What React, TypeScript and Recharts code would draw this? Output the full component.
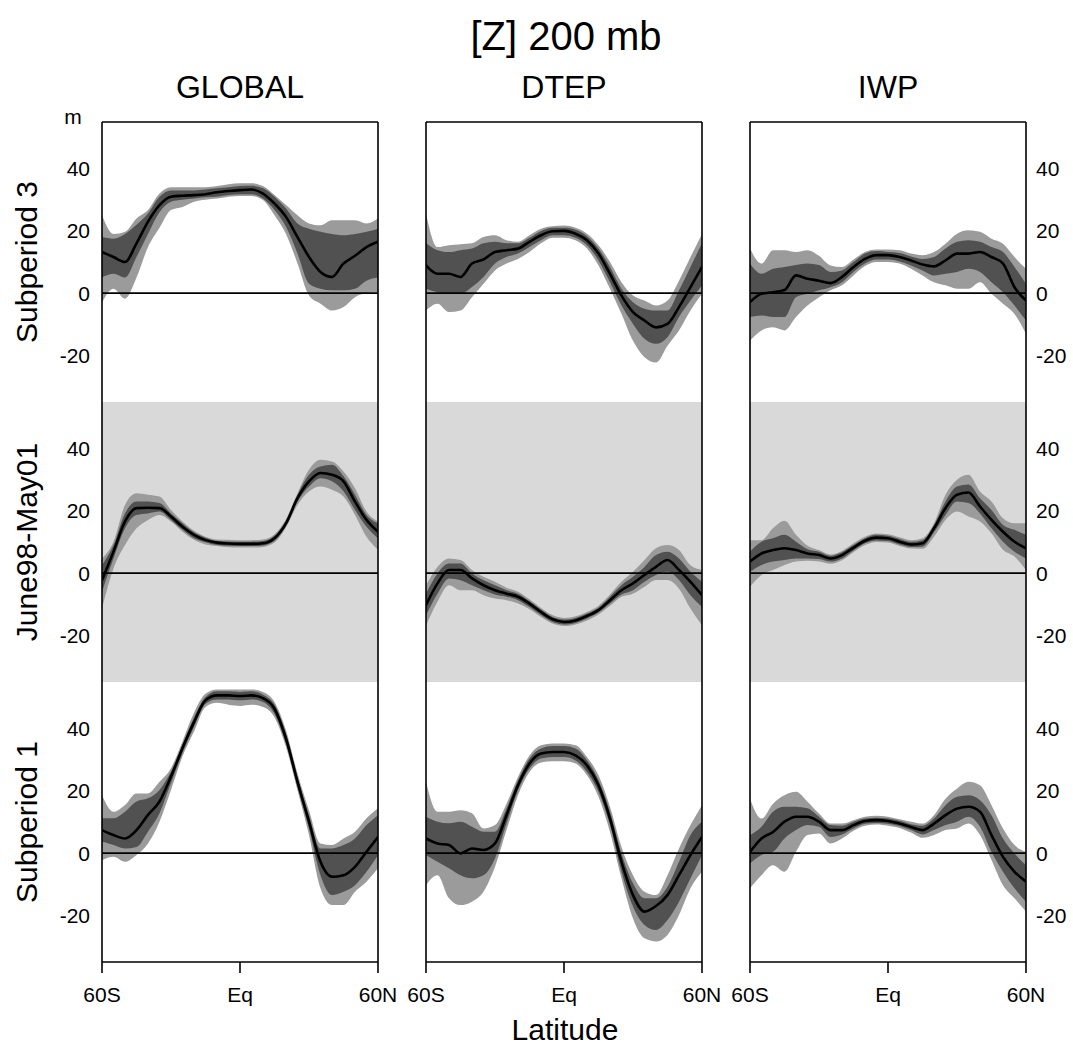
import React from "react";
import {
  ComposedChart,
  Area,
  Line,
  XAxis,
  YAxis,
  ReferenceLine,
  CartesianGrid,
} from "recharts";

// latitude grid (deg, negative = south)
const LATS = [-60, -55, -50, -45, -40, -35, -30, -25, -20, -15, -10, -5, 0, 5, 10, 15, 20, 25, 30, 35, 40, 45, 50, 55, 60];
const LAT_TICKS = [-60, 0, 60];
const Z_TICKS = [-20, 0, 20, 40];
const COLUMNS = ["GLOBAL", "DTEP", "IWP"];
const ROWS = ["Subperiod 3", "June98-May01", "Subperiod 1"];

// GLOBAL - Subperiod 3
const globalS3Mean = [13.2, 11.6, 10, 16, 23, 28.3, 31, 31.3, 31.5, 31.8, 32.4, 32.8, 33.1, 33.3, 32, 28.8, 24.5, 18, 11.6, 6.8, 5.2, 9.5, 12, 14.8, 16.5];
const globalS3InnerLo = [5, 6.2, 5, 11.6, 19, 26, 29.4, 30, 30.4, 30.8, 31, 31.5, 31.8, 31.8, 30.4, 26.7, 21.3, 12.7, 3, 1.4, 0.9, 0.9, 1.4, 4, 5];
const globalS3InnerHi = [18, 17.5, 19, 22, 25.6, 31, 33, 33, 33, 33.3, 33.7, 34, 34.4, 34.5, 33.7, 31, 27.2, 22.4, 20.7, 19.7, 19, 18.6, 19, 19.7, 20.7];
const globalS3OuterLo = [-3, 1.4, -1.8, 5, 14.8, 21, 26.7, 27.7, 29.4, 30, 30.4, 31, 31.2, 31.2, 29.9, 25, 19, 9.5, -0.8, -3.4, -5.6, -4.5, -1.3, 0, 0.3];
const globalS3OuterHi = [25, 19, 19.7, 24, 26.7, 32, 34, 34, 34, 34, 34.4, 35, 35.3, 35.3, 34.4, 31.5, 28.3, 25, 22.4, 21.8, 23.4, 23.4, 23.4, 22.4, 24];

// DTEP - Subperiod 3
const dtepS3Mean = [8.9, 6.2, 6.2, 5.2, 9.5, 10.8, 13.2, 13.8, 14.3, 16.5, 18.6, 19.9, 20, 19.1, 17, 12.7, 6.2, -0.8, -6.1, -8.8, -11, -9.9, -4.5, 1.9, 8.4];
const dtepS3InnerLo = [1.4, 0.3, -0.2, -0.2, 2, 5.2, 9.5, 11.6, 12.7, 14.8, 17, 18.6, 18.6, 17.8, 15.4, 10.5, 3.5, -4, -9.9, -14.7, -16.3, -14.2, -7.7, -2.4, 2.5];
const dtepS3InnerHi = [16, 13.8, 13.2, 13.8, 14.3, 16, 16.5, 16, 16, 17.8, 20, 21, 21, 20.4, 18.3, 14.3, 8.4, 1.4, -2.9, -5, -5.6, -5.6, 0.9, 8.4, 16];
const dtepS3OuterLo = [-5.6, -3.4, -6.1, -5.6, -1.3, 3, 7.3, 9.5, 11, 13.2, 16, 17.8, 17.8, 17, 14.3, 8.9, 1.4, -6.7, -15.3, -20.6, -22.3, -16.9, -12, -5.6, -0.2];
const dtepS3OuterHi = [25.6, 14.8, 15.4, 15.7, 16, 18, 18.6, 17, 16.5, 18.6, 20.7, 21.5, 21.7, 21, 19.1, 15.4, 10, 3.5, -0.8, -2.4, -4, -2.4, 4, 11.6, 19];

// IWP - Subperiod 3
const iwpS3Mean = [-2.9, -0.2, 0.3, 1, 5.7, 4.6, 4, 3.2, 5.2, 8.4, 11, 12.2, 12.2, 11.6, 10.5, 9.2, 8.6, 10.5, 12.7, 12.7, 13.2, 11.6, 9.5, 1.9, -2.4];
const iwpS3InnerLo = [-7.7, -7.2, -7.7, -7.7, -1.3, -0.2, 0.9, 1.9, 3.5, 6.8, 9.5, 10.8, 10.8, 10.2, 8.9, 7.3, 5.7, 6.2, 6.8, 7.8, 6.8, 3.5, 0.3, -4, -8.8];
const iwpS3InnerHi = [9.5, 6.2, 7.8, 8.4, 9, 9.5, 9, 6.8, 7.3, 10, 12.7, 13.5, 13.2, 12.9, 11.8, 11, 11.6, 14.3, 16.5, 17, 16.5, 14.8, 13.2, 8.4, 3];
const iwpS3OuterLo = [-15.3, -12, -11, -12, -7.7, -4, -1.3, 0.9, 2.5, 5.7, 8.7, 10, 10, 9.5, 7.8, 5.7, 3.5, 2.5, 1.4, 1.4, 3.5, -0.2, -3.4, -6.7, -13.1];
const iwpS3OuterHi = [14.3, 9.5, 13.8, 13.8, 13.2, 13.8, 12, 8.9, 8.4, 10.8, 13.2, 14, 14, 13.8, 12.7, 12.2, 13.2, 15.9, 19.1, 20.2, 19.7, 17.5, 15.9, 11.6, 7.8];

// GLOBAL - June98-May01
const globalAllMean = [-2.3, 6.9, 16.6, 20.9, 21, 20.9, 18.2, 14.9, 12.3, 10.6, 9.8, 9.5, 9.4, 9.4, 9.6, 11.2, 16, 24.1, 29.5, 32.2, 31.6, 29.5, 23, 17.1, 13.3];
const globalAllInnerLo = [-6, 4.7, 14.4, 18.7, 19.2, 19.8, 17.1, 13.9, 11.2, 9.9, 9, 8.8, 8.7, 8.7, 8.9, 10.4, 15.2, 23, 27.8, 30.5, 29.5, 26.3, 20.3, 14.9, 11.2];
const globalAllInnerHi = [2.6, 9, 19.2, 23, 23, 22.5, 19.2, 16, 13.1, 11.4, 10.4, 10.2, 10.1, 10.1, 10.3, 12, 16.8, 25.2, 31.6, 34.3, 34.8, 31.1, 25.2, 18.7, 16];
const globalAllOuterLo = [-11.4, 1.5, 9, 14.4, 17.1, 18.7, 16.6, 13.3, 10.7, 9.2, 8.7, 8.3, 8.2, 8.2, 8.4, 9.8, 14.7, 21.9, 26.2, 27.8, 26.8, 24.6, 18.7, 11.7, 7.5];
const globalAllOuterHi = [4.7, 10.1, 21.9, 25.7, 25.2, 24.6, 20.3, 16.6, 13.6, 11.7, 10.8, 10.7, 10.6, 10.6, 10.8, 12.5, 17.4, 25.7, 33.2, 36.4, 35.9, 32.7, 27.3, 19.8, 16.6];

// DTEP - June98-May01
const dtepAllMean = [-10.3, -3.3, 1, 1, -1.7, -3.9, -5.5, -6.6, -7.6, -9.8, -12.5, -14.8, -15.7, -15.2, -13.8, -11.9, -8.7, -5.5, -3.3, -0.6, 2, 4.2, 1, -2.8, -7.1];
const dtepAllInnerLo = [-13.5, -6.6, -1.7, -2.3, -3.9, -5.5, -6.9, -7.6, -8.7, -10.9, -13.5, -15.7, -16.5, -16, -14.6, -12.7, -9.8, -6.9, -5.5, -2.8, -0.6, 0.4, -2.2, -7.1, -10.9];
const dtepAllInnerHi = [-6.6, -0.1, 3.1, 3.1, -0.1, -2.3, -3.9, -5.5, -6.6, -9, -11.7, -14.1, -14.9, -14.4, -13, -11.1, -7.6, -3.9, -1.2, 2, 5.8, 6.9, 4.7, 0.4, -2.8];
const dtepAllOuterLo = [-16.8, -9.2, -3.9, -5.5, -5.5, -7.1, -8.2, -8.7, -9.8, -11.6, -14.1, -16.2, -17, -16.5, -15.2, -13.3, -10.5, -7.6, -6.6, -4.4, -2.2, -2.2, -5, -11.4, -16.8];
const dtepAllOuterHi = [-3.9, 2, 4.7, 4.2, 1, -1.2, -2.8, -4.7, -6, -8.4, -11.2, -13.5, -14.4, -13.9, -12.5, -10.5, -6.9, -2.8, 0.4, 4.2, 8, 9, 7.4, 2.5, 1];

// IWP - June98-May01
const iwpAllMean = [3.7, 6.3, 7.4, 8, 7.4, 6.3, 5.8, 4.7, 5.8, 8.2, 10.4, 11.4, 11.2, 10.1, 9.2, 9.6, 14.4, 20.9, 25.2, 25.9, 21.4, 17.1, 13.3, 10.1, 8];
const iwpAllInnerLo = [0.4, 2.6, 3.7, 4.2, 4.7, 4.7, 4.5, 3.7, 4.7, 7.3, 9.6, 10.5, 10.3, 9.2, 8.4, 8.5, 13.1, 18.7, 23, 22.5, 19.2, 14.4, 10.1, 6.9, 4.7];
const iwpAllInnerHi = [6.9, 10.1, 11.2, 12.3, 10.1, 7.7, 6.9, 5.6, 6.7, 9, 11.2, 12.3, 12, 11, 10.1, 10.6, 15.5, 23, 27.8, 28.5, 24.1, 20.3, 15.5, 13.9, 12.3];
const iwpAllOuterLo = [-4.4, -0.6, 1, 2.6, 3.7, 4, 3.7, 3, 4.1, 6.7, 9, 10, 9.8, 8.7, 7.9, 7.8, 11.7, 17.1, 19.8, 18.2, 16.6, 12.8, 7.5, 5.3, 1];
const iwpAllOuterHi = [10.6, 10.6, 14.4, 16.8, 12.3, 8.8, 7.4, 6, 7.1, 9.6, 11.7, 12.7, 12.5, 11.5, 10.6, 11.2, 16, 25.2, 30, 31.6, 26.2, 23, 17.6, 16, 16];

// GLOBAL - Subperiod 1
const globalS1Mean = [7.4, 5.8, 4.7, 7.4, 12.3, 16.6, 24.6, 33.8, 42.1, 49.1, 50.7, 50.7, 50.5, 50.7, 49.8, 46.4, 36.8, 22.9, 10.1, -2.8, -7.6, -7.1, -4.4, 0.4, 5.2];
const globalS1InnerLo = [3.7, 2.6, 1.5, 2, 6.9, 12.8, 22.5, 32.2, 40.6, 48, 49.4, 49.4, 49.1, 49.4, 48.6, 44.8, 35.2, 21.3, 7.9, -7.1, -13.5, -12.4, -10.3, -6, -0.6];
const globalS1InnerHi = [11.2, 11.2, 13.3, 16.6, 17.6, 20.3, 26.2, 34.8, 43.6, 50.2, 52, 52, 51.8, 52, 50.9, 47.7, 38.4, 24.5, 12.2, 1.5, 1.5, 2.6, 4.7, 9, 12.2];
const globalS1OuterLo = [-2.3, -1.2, -2.8, -0.6, 3.1, 10.1, 20.3, 31.1, 39.1, 47, 48.3, 47.7, 47.3, 47.7, 47, 43.7, 34.1, 20.2, 5.8, -11.3, -16.7, -16.7, -12.4, -9.2, -4.9];
const globalS1OuterHi = [18.7, 13.3, 15.5, 19.2, 19.2, 22.9, 27.3, 35.9, 45.1, 51.2, 52.6, 52.6, 52.6, 52.6, 51.8, 48.6, 39.5, 25.6, 13.8, 3.1, 2.6, 4.7, 6.9, 11.2, 14.4];

// DTEP - Subperiod 1
const dtepS1Mean = [4.7, 3.1, 2.6, -0.1, 1.5, 1, 3.1, 12.2, 21.8, 28.8, 32, 32.5, 32.5, 31.4, 28.2, 21.8, 11.1, -2.8, -13.5, -18.8, -17, -13.5, -7.1, -0.6, 5.2];
const dtepS1InnerLo = [-0.6, -2.8, -4.9, -7.1, -8.1, -7.1, -1.7, 9.5, 20.2, 27.2, 30.4, 30.9, 30.9, 29.8, 26.1, 19.7, 9, -6, -17.2, -23.1, -24.7, -21.5, -15.6, -8.1, -0.6];
const dtepS1InnerHi = [11.7, 10.1, 9.6, 10.1, 8.5, 6.9, 6.9, 14.3, 23.4, 30.4, 33.6, 34.4, 34.4, 33.6, 29.8, 23.4, 13.3, -0.1, -9.7, -14.5, -14.5, -10.8, -2.8, 5.8, 10.1];
const dtepS1OuterLo = [-10.3, -7.1, -14.5, -16.7, -15.6, -12.4, -4.4, 7.4, 18.6, 26.1, 29.1, 29.5, 29.5, 28.8, 25, 18.1, 6.8, -8.1, -21, -27.4, -28.4, -26.3, -19.9, -11.3, -6];
const dtepS1OuterHi = [22.9, 13.3, 13.3, 13.8, 12.8, 7.9, 9, 15.9, 24.5, 31.4, 34.7, 35.2, 35.2, 34.7, 30.9, 25, 14.9, 2, -7.1, -12.4, -13.5, -7.1, 1.5, 9, 15.4];

// IWP - Subperiod 1
const iwpS1Mean = [0.4, 4.7, 6.8, 10.1, 11.7, 11.7, 10.1, 7.4, 7.4, 9, 10.3, 10.6, 10.3, 9.5, 8.4, 7.4, 9.5, 12.2, 14.3, 14.9, 13.3, 5.8, -1.2, -6, -9.2];
const iwpS1InnerLo = [-3.3, -0.6, 0.4, 4.7, 7.4, 9, 8.5, 5.2, 6, 7.9, 9.4, 9.7, 9.4, 8.7, 7.4, 6, 7.4, 9, 10.1, 11.7, 8.5, 0.4, -6, -11.3, -15.6];
const iwpS1InnerHi = [5.8, 8.5, 13.3, 14.9, 14.9, 14.4, 11.7, 9, 8.8, 10.1, 11.1, 11.4, 11.1, 10.4, 9.3, 8.8, 11.1, 15.4, 18.1, 18.6, 17, 12.2, 4.7, -0.1, -3.9];
const iwpS1OuterLo = [-11.3, -7.1, -3.9, -6, 0.4, 5.8, 6.3, 3.1, 4.7, 7.2, 8.8, 9.2, 8.8, 8.1, 6.6, 4.9, 5.8, 7.4, 7.9, 9.5, 5.8, -2.2, -10.3, -14.5, -18.8];
const iwpS1OuterHi = [17.5, 11.1, 15.9, 18.6, 19.7, 16.5, 12.7, 9.5, 9.5, 10.6, 11.7, 12, 11.7, 10.9, 10.1, 9.5, 12.2, 17.5, 20.7, 22.9, 21.8, 15.4, 7.9, 2.6, 0.4];

type PanelSeries = { mean: number[]; innerLo: number[]; innerHi: number[]; outerLo: number[]; outerHi: number[] };

const PANELS: PanelSeries[][] = [
  [
    { mean: globalS3Mean, innerLo: globalS3InnerLo, innerHi: globalS3InnerHi, outerLo: globalS3OuterLo, outerHi: globalS3OuterHi },
    { mean: dtepS3Mean, innerLo: dtepS3InnerLo, innerHi: dtepS3InnerHi, outerLo: dtepS3OuterLo, outerHi: dtepS3OuterHi },
    { mean: iwpS3Mean, innerLo: iwpS3InnerLo, innerHi: iwpS3InnerHi, outerLo: iwpS3OuterLo, outerHi: iwpS3OuterHi },
  ],
  [
    { mean: globalAllMean, innerLo: globalAllInnerLo, innerHi: globalAllInnerHi, outerLo: globalAllOuterLo, outerHi: globalAllOuterHi },
    { mean: dtepAllMean, innerLo: dtepAllInnerLo, innerHi: dtepAllInnerHi, outerLo: dtepAllOuterLo, outerHi: dtepAllOuterHi },
    { mean: iwpAllMean, innerLo: iwpAllInnerLo, innerHi: iwpAllInnerHi, outerLo: iwpAllOuterLo, outerHi: iwpAllOuterHi },
  ],
  [
    { mean: globalS1Mean, innerLo: globalS1InnerLo, innerHi: globalS1InnerHi, outerLo: globalS1OuterLo, outerHi: globalS1OuterHi },
    { mean: dtepS1Mean, innerLo: dtepS1InnerLo, innerHi: dtepS1InnerHi, outerLo: dtepS1OuterLo, outerHi: dtepS1OuterHi },
    { mean: iwpS1Mean, innerLo: iwpS1InnerLo, innerHi: iwpS1InnerHi, outerLo: iwpS1OuterLo, outerHi: iwpS1OuterHi },
  ],
];

const FONT = "'Liberation Sans', Arial, Helvetica, sans-serif";
const PANEL_LEFT = [102, 426, 750];
const ROW_TOP = [122, 402, 682];
const PW = 276;
const PH = 280;
const LIGHT = "#9b9b9b";
const DARK = "#515151";
const SHADE = "#d9d9d9";
const AX = { stroke: "#000", strokeWidth: 1.6 };

const latLabel = (v: number) => (v < 0 ? "60S" : v > 0 ? "60N" : "Eq");

function Panel({ r, c }: { r: number; c: number }) {
  const p = PANELS[r][c];
  const data = LATS.map((lat, i) => ({
    lat,
    mean: p.mean[i],
    inner: [p.innerLo[i], p.innerHi[i]],
    outer: [p.outerLo[i], p.outerHi[i]],
  }));

  const padL = c === 0 ? 60 : 30;
  const padR = c === 2 ? 50 : 30;
  const padT = 6;
  const padB = r === 2 ? 44 : 6;
  const labelW = 44;
  const labelH = 38;

  return (
    <div style={{ position: "absolute", left: PANEL_LEFT[c] - padL, top: ROW_TOP[r] - padT }}>
      <ComposedChart
        width={PW + padL + padR}
        height={PH + padT + padB}
        data={data}
        margin={{
          top: padT,
          right: c === 2 ? padR - labelW : padR,
          bottom: r === 2 ? padB - labelH : padB,
          left: c === 0 ? padL - labelW : padL,
        }}
      >
        {r === 1 && (
          <CartesianGrid xAxisId="b" yAxisId="l" horizontal={false} vertical={false} fill={SHADE} stroke="none" />
        )}
        <Area xAxisId="b" yAxisId="l" type="monotone" dataKey="outer" stroke="none" fill={LIGHT} fillOpacity={1} isAnimationActive={false} />
        <Area xAxisId="b" yAxisId="l" type="monotone" dataKey="inner" stroke="none" fill={DARK} fillOpacity={1} isAnimationActive={false} />
        <ReferenceLine xAxisId="b" yAxisId="l" y={0} stroke="#000" strokeWidth={1.6} />
        <Line xAxisId="b" yAxisId="l" type="monotone" dataKey="mean" stroke="#000" strokeWidth={2.6} dot={false} isAnimationActive={false} />

        <XAxis
          xAxisId="b"
          dataKey="lat"
          type="number"
          domain={[-60, 60]}
          allowDataOverflow
          ticks={LAT_TICKS}
          interval={0}
          hide={r !== 2}
          height={labelH}
          tickSize={11}
          tickMargin={14}
          tickFormatter={latLabel}
          axisLine={AX}
          tickLine={AX}
          tick={{ fill: "#000", fontSize: 21, fontFamily: FONT }}
        />
        {r === 2 && (
          <XAxis xAxisId="bi" type="number" domain={[-60, 60]} allowDataOverflow ticks={LAT_TICKS} interval={0} mirror tickSize={11} tick={false} axisLine={false} tickLine={AX} />
        )}
        {r === 0 && (
          <XAxis xAxisId="t" orientation="top" type="number" domain={[-60, 60]} allowDataOverflow ticks={[0]} mirror tickSize={11} tick={false} axisLine={AX} tickLine={AX} />
        )}
        <YAxis yAxisId="l" orientation="left" type="number" domain={[-35, 55]} allowDataOverflow ticks={Z_TICKS} interval={0} mirror tickSize={23} tick={false} axisLine={AX} tickLine={AX} />
        <YAxis yAxisId="r" orientation="right" type="number" domain={[-35, 55]} allowDataOverflow ticks={Z_TICKS} interval={0} mirror tickSize={23} tick={false} axisLine={AX} tickLine={AX} />
        {c === 0 && (
          <YAxis
            yAxisId="ll"
            orientation="left"
            type="number"
            domain={[-35, 55]}
            allowDataOverflow
            ticks={Z_TICKS}
            interval={0}
            width={labelW}
            tickSize={0}
            tickMargin={12}
            axisLine={false}
            tickLine={false}
            tick={{ fill: "#000", fontSize: 21, fontFamily: FONT }}
          />
        )}
        {c === 2 && (
          <YAxis
            yAxisId="rl"
            orientation="right"
            type="number"
            domain={[-35, 55]}
            allowDataOverflow
            ticks={Z_TICKS}
            interval={0}
            width={labelW}
            tickSize={0}
            tickMargin={10}
            axisLine={false}
            tickLine={false}
            tick={{ fill: "#000", fontSize: 21, fontFamily: FONT }}
          />
        )}
      </ComposedChart>
    </div>
  );
}

export default function App() {
  const colCenters = PANEL_LEFT.map((l) => l + PW / 2);
  const rowCenters = ROW_TOP.map((t) => t + PH / 2);
  return (
    <div style={{ position: "absolute", left: 0, top: 0, width: 1073, height: 1049, background: "#fff", fontFamily: FONT }}>
      {ROWS.map((_, r) => COLUMNS.map((__, c) => <Panel key={`${r}-${c}`} r={r} c={c} />))}
      <svg width={1073} height={1049} style={{ position: "absolute", left: 0, top: 0, pointerEvents: "none" }}>
        <text x={566} y={50} textAnchor="middle" fontSize={40} fontFamily={FONT}>[Z] 200 mb</text>
        {COLUMNS.map((t, i) => (
          <text key={t} x={colCenters[i]} y={98} textAnchor="middle" fontSize={32} fontFamily={FONT}>{t}</text>
        ))}
        {ROWS.map((t, i) => (
          <text key={t} x={37} y={rowCenters[i]} transform={`rotate(-90 37 ${rowCenters[i]})`} textAnchor="middle" fontSize={30} fontFamily={FONT}>{t}</text>
        ))}
        <text x={73} y={124} textAnchor="middle" fontSize={21} fontFamily={FONT}>m</text>
        <text x={565} y={1040} textAnchor="middle" fontSize={30} fontFamily={FONT}>Latitude</text>
      </svg>
    </div>
  );
}
